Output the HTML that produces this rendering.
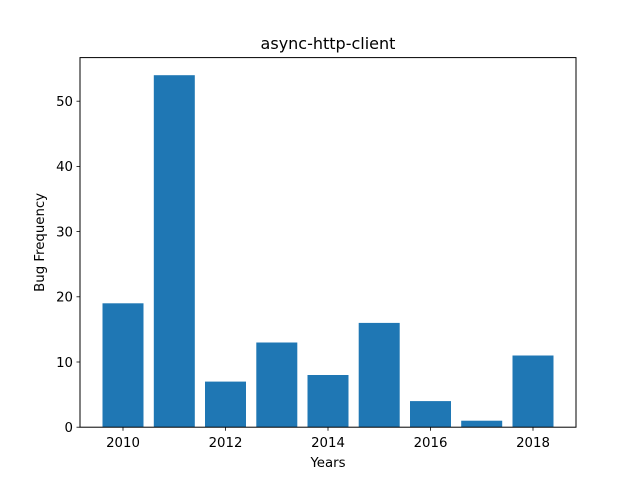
<!DOCTYPE html>
<html><head><style>html,body{margin:0;padding:0;background:#fff}</style></head>
<body>
<svg width="640" height="480" xmlns="http://www.w3.org/2000/svg" font-family="'DejaVu Sans','Liberation Sans',sans-serif" font-size="13.3" fill="#000">
<rect width="640" height="480" fill="#fff"/>
<g fill="#1f77b4">
<rect x="102.5" y="303.3" width="41" height="123.9"/>
<rect x="153.8" y="75.2" width="41" height="352"/>
<rect x="205" y="381.6" width="41" height="45.6"/>
<rect x="256.3" y="342.5" width="41" height="84.7"/>
<rect x="307.5" y="375.0" width="41" height="52.2"/>
<rect x="358.7" y="322.9" width="41" height="104.3"/>
<rect x="410" y="401.1" width="41" height="26.1"/>
<rect x="461.2" y="420.7" width="41" height="6.5"/>
<rect x="512.5" y="355.5" width="41" height="71.7"/>
</g>
<rect x="80" y="57.6" width="496" height="369.6" fill="none" stroke="#000" stroke-width="1"/>
<g stroke="#000" stroke-width="0.8">
<line x1="123" y1="427.2" x2="123" y2="430.7"/>
<line x1="225.5" y1="427.2" x2="225.5" y2="430.7"/>
<line x1="328" y1="427.2" x2="328" y2="430.7"/>
<line x1="430.5" y1="427.2" x2="430.5" y2="430.7"/>
<line x1="533" y1="427.2" x2="533" y2="430.7"/>
<line x1="76.5" y1="427.2" x2="80" y2="427.2"/>
<line x1="76.5" y1="362" x2="80" y2="362"/>
<line x1="76.5" y1="296.8" x2="80" y2="296.8"/>
<line x1="76.5" y1="231.6" x2="80" y2="231.6"/>
<line x1="76.5" y1="166.4" x2="80" y2="166.4"/>
<line x1="76.5" y1="101.2" x2="80" y2="101.2"/>
</g>
<g text-anchor="middle" font-size="13.3">
<text x="123" y="447">2010</text>
<text x="225.5" y="447">2012</text>
<text x="328" y="447">2014</text>
<text x="430.5" y="447">2016</text>
<text x="533" y="447">2018</text>
<text x="328" y="467">Years</text>
<text x="328" y="49" font-size="16">async-http-client</text>
</g>
<g text-anchor="end">
<text x="73" y="432">0</text>
<text x="73" y="367">10</text>
<text x="73" y="301.6">20</text>
<text x="73" y="236.4">30</text>
<text x="73" y="171.2">40</text>
<text x="73" y="106">50</text>
</g>
<text transform="translate(44,242.4) rotate(-90)" text-anchor="middle">Bug Frequency</text>
</svg>
</body></html>
